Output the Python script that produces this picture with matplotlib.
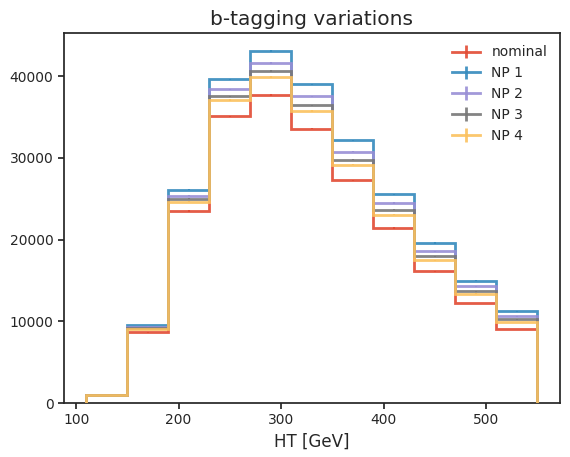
import numpy as np
import matplotlib
matplotlib.use("Agg")
import matplotlib.pyplot as plt

edges = [110, 150, 190, 230, 270, 310, 350, 390, 430, 470, 510, 550]
nominal = [950, 8650, 23520, 35080, 37690, 33600, 27250, 21430, 16150, 12250, 9060]
np1 = [950, 9550, 26100, 39620, 43060, 39000, 32160, 25560, 19590, 15000, 11230]
np2 = [950, 9340, 25370, 38390, 41630, 37530, 30770, 24500, 18600, 14300, 10620]
np3 = [950, 9200, 25000, 37530, 40600, 36430, 29790, 23650, 17990, 13690, 10250]
np4 = [950, 9060, 24630, 37080, 39900, 35730, 29180, 23070, 17500, 13360, 9920]

series = [("nominal", nominal), ("NP 1", np1), ("NP 2", np2), ("NP 3", np3), ("NP 4", np4)]
colors = ["#E24A33", "#348ABD", "#988ED5", "#777777", "#FBC15E"]

plt.rcParams.update({
    "text.color": ".15",
    "axes.labelcolor": ".15",
    "xtick.color": ".15",
    "ytick.color": ".15",
    "axes.edgecolor": ".15",
    "axes.linewidth": 1.25,
})

fig = plt.figure(figsize=(5.7, 4.57), dpi=100)
ax = fig.add_axes([0.112, 0.118, 0.870, 0.810])

centers = (np.array(edges[:-1]) + np.array(edges[1:])) / 2
z = 2
for (name, vals), c in zip(series, colors):
    vals = np.array(vals, dtype=float)
    # tiny poisson-ish errors, mostly hidden under the step line
    ax.errorbar(centers, vals, yerr=0.5 * np.sqrt(vals), fmt="none", ecolor=c,
                alpha=0.9, zorder=z)
    ax.stairs(vals, edges, color=c, lw=2, alpha=0.9, zorder=z + 0.1)
    ax.errorbar([np.nan], [np.nan], yerr=[np.nan], color=c, lw=2, alpha=0.9, label=name)
    z += 0.2

ax.set_xlim(88, 572)
ax.set_ylim(0, 45300)
ax.set_title("b-tagging variations", fontsize=14.5)
ax.set_xlabel("HT [GeV]", fontsize=12)
ax.tick_params(direction="out", length=4, width=1.25)
ax.legend(frameon=False, loc="upper right")

fig.savefig("out.png", dpi=100)
